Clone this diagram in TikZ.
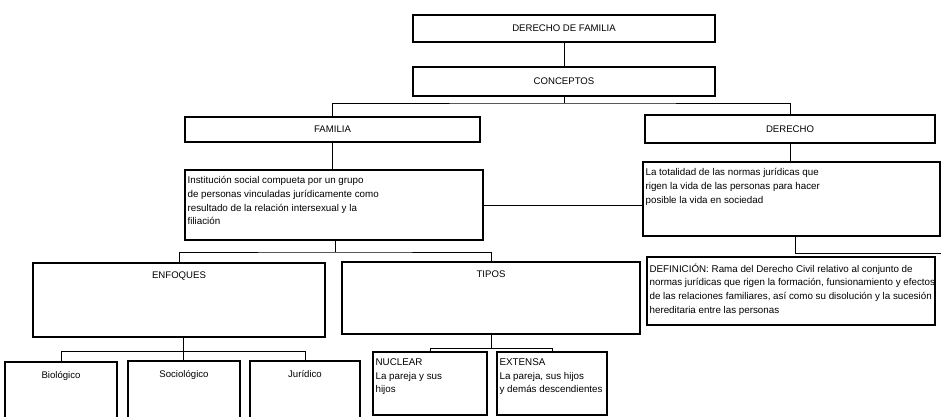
\documentclass[tikz,border=0pt]{standalone}
\usepackage{fontspec}
\setmainfont{Liberation Sans}
\begin{document}
\begin{tikzpicture}[x=1pt,y=-1pt,
  box/.style={draw=black,line width=1.2pt,rectangle,inner sep=0pt},
  link/.style={draw=black,line width=0.7pt},
  titlelbl/.style={anchor=north,inner sep=0pt,yshift=-9.5pt},
  textlbl/.style={anchor=north west,align=left,inner sep=0pt,xshift=3pt,yshift=-7pt,font=\fontsize{9.8}{13.7}\selectfont},
  font=\fontsize{9.6}{11}\selectfont]
\useasboundingbox (0,0) rectangle (941,416);
\clip (0,0) rectangle (941,416);

\node[box,minimum width=302pt,minimum height=27pt] (fam) at (564,28.5) {DERECHO DE FAMILIA};
\node[box,minimum width=302pt,minimum height=29pt] (conc) at (564,81.5) {CONCEPTOS};
\node[box,minimum width=295pt,minimum height=25pt] (familia) at (332.5,129.5) {FAMILIA};
\node[box,minimum width=290pt,minimum height=28pt] (derecho) at (790,129) {DERECHO};

\node[box,minimum width=298pt,minimum height=70pt,label={[textlbl]north west:{Institución social compueta por un grupo\\de personas vinculadas jurídicamente como\\resultado de la relación intersexual y la\\filiación}}] (inst) at (334,205) {};
\node[box,minimum width=297pt,minimum height=74pt,label={[textlbl]north west:{La totalidad de las normas jurídicas que\\rigen la vida de las personas para hacer\\posible la vida en sociedad}}] (total) at (791.5,199) {};

\node[box,minimum width=292pt,minimum height=74pt,label={[titlelbl]north:ENFOQUES}] (enf) at (179,300) {};
\node[box,minimum width=298pt,minimum height=72pt,label={[titlelbl]north:TIPOS}] (tipos) at (491,298) {};
\node[box,minimum width=288pt,minimum height=68pt,label={[textlbl]north west:{DEFINICIÓN: Rama del Derecho Civil relativo al conjunto de\\normas jurídicas que rigen la formación, funsionamiento y efectos\\de las relaciones familiares, así como su disolución y la sucesión\\hereditaria entre las personas}}] (defin) at (791,291) {};

\node[box,minimum width=112pt,minimum height=58pt,label={[titlelbl]north:Biológico}] (bio) at (61,391) {};
\node[box,minimum width=112pt,minimum height=59pt,label={[titlelbl]north:Sociológico}] (soc) at (184,390.5) {};
\node[box,minimum width=110pt,minimum height=59pt,label={[titlelbl]north:Jurídico}] (jur) at (305,390.5) {};
\node[box,minimum width=114pt,minimum height=63pt,label={[textlbl]north west:{NUCLEAR\\La pareja y sus\\hijos}}] (nuc) at (430,383.5) {};
\node[box,minimum width=110pt,minimum height=63pt,label={[textlbl]north west:{EXTENSA\\La pareja, sus hijos\\y demás descendientes}}] (ext) at (552,383.5) {};

\coordinate (split1) at (564,103);
\coordinate (split2) at (335,252);
\coordinate (split3) at (795,253);
\coordinate (rgt) at (941,253);
\coordinate (split4) at (183,351);
\coordinate (split5) at (491,348);

\draw[link] (fam.south) -- (conc.north);
\draw[link] (conc.south) -- (split1);
\draw[link] (familia.north) |- (split1) -| (derecho.north);
\draw[link] (familia.south) -- (familia.south |- inst.north);
\draw[link] (derecho.south) -- (derecho.south |- total.north);
\draw[link] (inst.east) -- (inst.east -| total.west);
%%%%%%%%
\draw[link] (inst.south -| split2) -- (split2);
\draw[link] (enf.north) |- (split2) -| (tipos.north);
\draw[link] (total.south -| split3) -- (split3) -- (rgt);
%%%%%%%%
\draw[link] (enf.south -| split4) -- (split4);
\draw[link] (bio.north) |- (split4) -| (jur.north);
\draw[link] (split4) -- (soc.north -| split4);
\draw[link] (tipos.south) -- (split5);
\draw[link] (nuc.north) |- (split5) -| (ext.north);

\end{tikzpicture}
\end{document}
